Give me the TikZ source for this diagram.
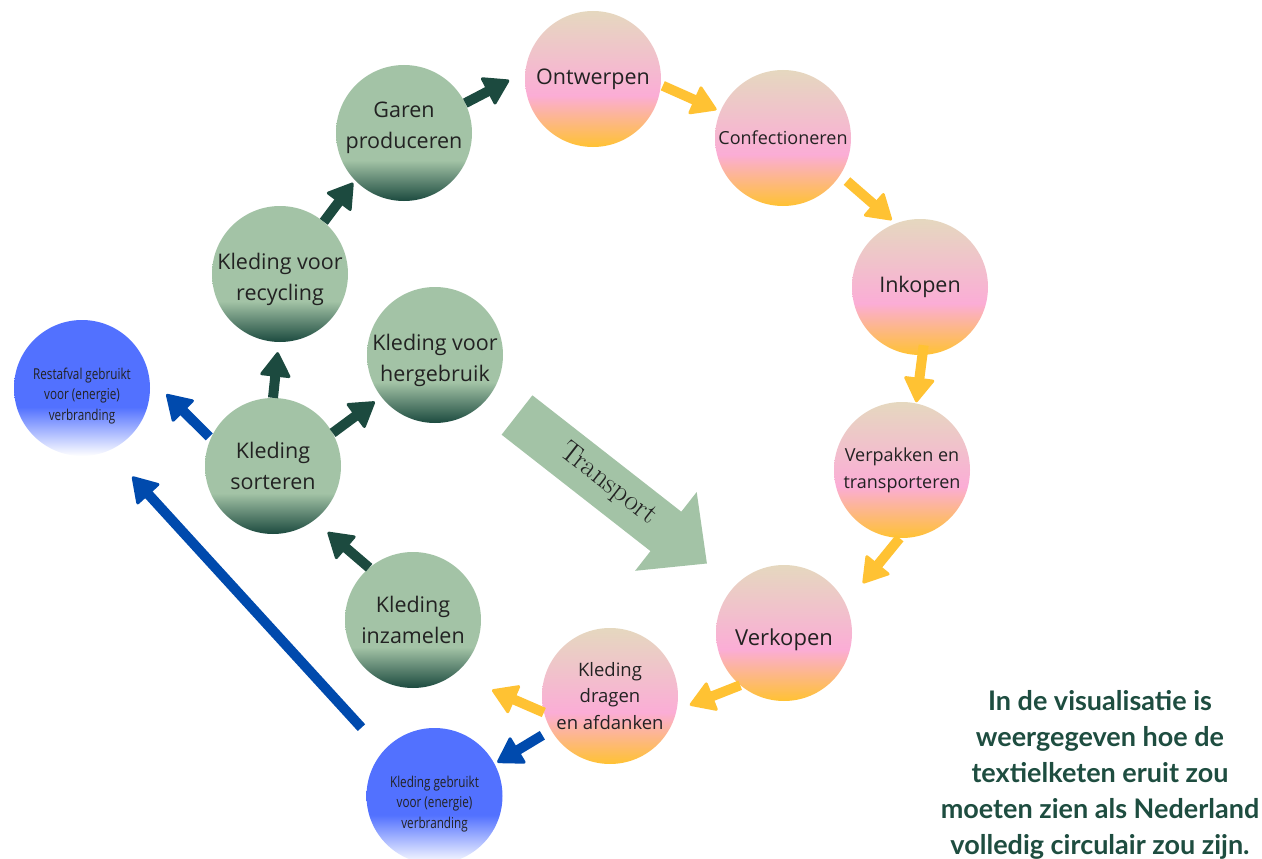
\documentclass[tikz,border=0pt]{standalone}
\usepackage{fontspec}
\setmainfont{Open Sans}
\newfontfamily\narrowfont{Open Sans}[FakeStretch=0.78]
\newfontfamily\notefont{Lato}
\newfontfamily\signfont{Latin Modern Roman}
\usetikzlibrary{arrows.meta}
\definecolor{beige}{HTML}{E5D8BF}
\definecolor{rose}{HTML}{FBADD6}
\definecolor{gold}{HTML}{FFC233}
\definecolor{sage}{HTML}{A3C3A6}
\definecolor{pine}{HTML}{1C4A3F}
\definecolor{azure}{HTML}{5271FF}
\definecolor{navy}{HTML}{004AAD}
\definecolor{ink}{HTML}{222222}
\definecolor{notegreen}{HTML}{1E4D40}
\pgfdeclareverticalshading{pinkfade}{100bp}{color(0bp)=(gold); color(25bp)=(gold); color(44bp)=(rose); color(75bp)=(beige); color(100bp)=(beige)}
\pgfdeclareverticalshading{greenfade}{100bp}{color(0bp)=(pine); color(25bp)=(pine); color(40bp)=(sage); color(100bp)=(sage)}
\pgfdeclareverticalshading{bluefade}{100bp}{color(0bp)=(white); color(25bp)=(white); color(43bp)=(azure); color(100bp)=(azure)}
\tikzstyle{stage}=[circle, minimum size=136pt, inner sep=-8pt, align=center, text=ink, shade]
\tikzstyle{prodstage}=[stage, shading=pinkfade, font=\fontsize{21.5pt}{29pt}\selectfont]
\tikzstyle{circstage}=[stage, shading=greenfade, font=\fontsize{21.5pt}{31pt}\selectfont]
\tikzstyle{burnstage}=[stage, shading=bluefade, text height=68pt, font=\narrowfont\fontsize{15pt}{20.5pt}\selectfont]
\tikzstyle{flow}=[-{Triangle[length=26pt, width=32pt, line width=3pt, round]}, line width=10pt]
\tikzstyle{yflow}=[flow, draw=gold]
\tikzstyle{gflow}=[flow, draw=pine]
\tikzstyle{bflow}=[flow, draw=navy]
\tikzstyle{note}=[align=center, text=notegreen, font=\notefont\bfseries\fontsize{27pt}{36pt}\selectfont]
\begin{document}
\begin{tikzpicture}[x=1pt, y=-1pt]
	\useasboundingbox (0,0) rectangle (1262,859);

	\fill[sage] (532.4,395.3) -- (681.3,511.7) -- (696.7,492.0) -- (706.9,563.5) -- (635.1,570.8) -- (650.5,551.1) -- (501.6,434.7) -- cycle;
	\node[rotate=-38, text=ink, font=\signfont\fontsize{29pt}{29pt}\selectfont] (transport) at (608,484) {Transport};

	\node[prodstage] (ontw) at (593,79) {Ontwerpen};
	\node[prodstage, font=\fontsize{18pt}{25pt}\selectfont] (conf) at (783,138) {Confectioneren};
	\node[prodstage] (inko) at (920,287) {Inkopen};
	\node[prodstage, font=\fontsize{18pt}{27pt}\selectfont] (verp) at (902,470) {Verpakken en\\transporteren};
	\node[prodstage, text height=30pt, font=\fontsize{22pt}{29pt}\selectfont] (verk) at (784,633) {Verkopen};
	\node[prodstage, font=\fontsize{18.5pt}{26.5pt}\selectfont] (drag) at (610,696) {Kleding\\dragen\\en afdanken};

	\node[burnstage] (gebr) at (434.5,796) {Kleding gebruikt\\voor (energie)\\verbranding};
	\node[burnstage] (rest) at (82,388) {Restafval gebruikt\\voor (energie)\\verbranding};

	\node[circstage] (sort) at (273,466) {Kleding\\sorteren};
	\node[circstage, text height=58pt] (recy) at (280,274) {Kleding voor\\recycling};
	\node[circstage, text height=36pt] (gare) at (404,133) {Garen\\produceren};
	\node[circstage, text height=58pt] (herg) at (435,355) {Kleding voor\\hergebruik};
	\node[circstage] (inza) at (413,620) {Kleding\\inzamelen};

	\coordinate (dropend) at (492,690);

	\draw[yflow, shorten <=2pt, shorten >=4pt] (ontw.355) -- (conf.157);
	\draw[yflow, shorten <=9pt, shorten >=5pt] (conf.327) -- (inko.111);
	\draw[yflow, shorten <=-10pt, shorten >=1pt] (inko.272) -- (verp.78);
	\draw[yflow, shorten >=27pt] (verp.268) -- (verk.25);
	\draw[yflow, shorten >=14pt] (verk.230) -- (drag.348);
	\draw[yflow] (drag.194) -- (dropend);

	\draw[bflow, shorten <=10pt, shorten >=3pt] (drag.210) -- (gebr.28);
	\draw[bflow, shorten <=32pt, shorten >=35pt] (gebr.139) -- (rest.293);
	\draw[bflow, shorten <=2pt, shorten >=24pt] (sort.156) -- (rest.9);

	\draw[gflow, shorten >=18pt] (inza.130) -- (sort.307);
	\draw[gflow, shorten >=10pt] (sort.90) -- (recy.269);
	\draw[gflow, shorten >=8pt] (sort.29) -- (herg.218);
	\draw[gflow, shorten >=3pt] (recy.50) -- (gare.224);
	\draw[gflow, shorten >=18pt] (gare.26) -- (ontw.174);

	\node[note] (caption) at (1100,775) {In de visualisatie is\\weergegeven hoe de\\textielketen eruit zou\\moeten zien als Nederland\\volledig circulair zou zijn.};
\end{tikzpicture}
\end{document}
